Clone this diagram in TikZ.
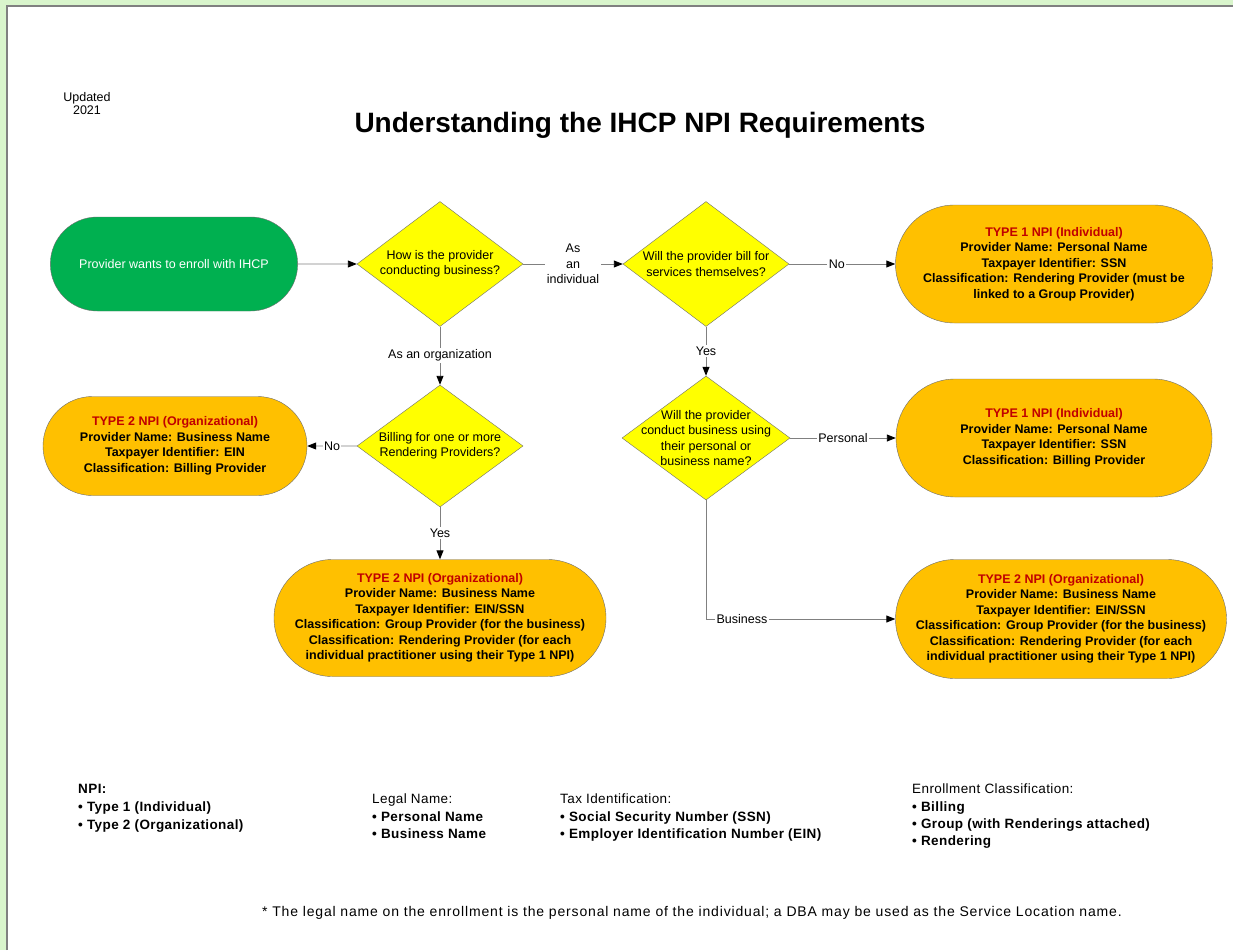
\documentclass[tikz,border=0pt]{standalone}
\usepackage{fontspec}
\setmainfont{Liberation Sans}
\usetikzlibrary{shapes.geometric,shapes.misc,arrows.meta}
\definecolor{bggreen}{RGB}{217,245,204}
\definecolor{startgreen}{RGB}{0,176,80}
\definecolor{boxorange}{RGB}{255,192,0}
\definecolor{qyellow}{RGB}{255,255,0}
\definecolor{redtxt}{RGB}{192,0,0}
\definecolor{edgegray}{RGB}{128,128,128}
\definecolor{outlinegray}{RGB}{110,110,110}
\begin{document}
\begin{tikzpicture}[x=1pt,y=-1pt,
 txt/.style={font=\fontsize{12.5}{15.3}\selectfont, align=center},
 startbox/.style={rounded rectangle, fill=startgreen, draw=outlinegray, text=white, txt},
 npibox/.style={rounded rectangle, fill=boxorange, draw=outlinegray, txt, font=\bfseries\fontsize{12.5}{15.5}\selectfont, inner sep=0pt},
 question/.style={diamond, fill=qyellow, draw=outlinegray, inner sep=0pt},
 qtext/.style={txt, inner sep=0pt},
 flow/.style={draw=edgegray, line width=0.9pt, -{Triangle[length=9pt,width=7pt,color=black]}},
 lbl/.style={fill=white, inner sep=1.5pt, txt},
 legend/.style={anchor=north west, align=left, inner sep=0pt, font=\fontsize{13.5}{18}\selectfont\addfontfeature{LetterSpace=3}},
]
\useasboundingbox (0,0) rectangle (1233,950);
\fill[bggreen] (0,0) rectangle (1233,950);
\fill[white] (7,6) rectangle (1233,950);
\draw[edgegray, line width=1.5pt] (7,950) -- (7,6) -- (1233,6);

\node[txt, font=\fontsize{12.5}{13}\selectfont] (upd) at (87,104) {Updated\\2021};
\node[font=\bfseries\fontsize{28}{30}\selectfont] (title) at (640,125) {Understanding the IHCP NPI Requirements};

\node[startbox, minimum width=254pt, minimum height=94pt] (start) at (174,264) {Provider wants to enroll with IHCP};

\node[question, minimum width=166pt, minimum height=125pt] (d1) at (440,264) {};
\node[qtext] (d1t) at (d1.center) {How is the provider\\conducting business?};
\node[question, minimum width=166pt, minimum height=125pt] (d2) at (706,264) {};
\node[qtext] (d2t) at (d2.center) {Will the provider bill for\\services themselves?};
\node[question, minimum width=166pt, minimum height=122pt] (d3) at (440,446) {};
\node[qtext] (d3t) at (d3.center) {Billing for one or more\\Rendering Providers?};
\node[question, minimum width=168pt, minimum height=124pt] (d4) at (706,438) {};
\node[qtext] (d4t) at (d4.center) {Will the provider\\conduct business using\\their personal or\\business name?};

\node[npibox, minimum width=317pt, minimum height=118pt] (b1) at (1054,264) {{\color{redtxt}TYPE 1 NPI (Individual)}\\Provider Name: Personal Name\\Taxpayer Identifier: SSN\\Classification: Rendering Provider (must be\\linked to a Group Provider)};
\node[npibox, minimum width=264pt, minimum height=99pt] (b2) at (175,446) {{\color{redtxt}TYPE 2 NPI (Organizational)}\\Provider Name: Business Name\\Taxpayer Identifier: EIN\\Classification: Billing Provider};
\node[npibox, minimum width=332pt, minimum height=117pt] (b3) at (440,618) {{\color{redtxt}TYPE 2 NPI (Organizational)}\\Provider Name: Business Name\\Taxpayer Identifier: EIN/SSN\\Classification: Group Provider (for the business)\\Classification: Rendering Provider (for each\\individual practitioner using their Type 1 NPI)};
\node[npibox, minimum width=316pt, minimum height=118pt] (b4) at (1054,438) {{\color{redtxt}TYPE 1 NPI (Individual)}\\Provider Name: Personal Name\\Taxpayer Identifier: SSN\\Classification: Billing Provider};
\node[npibox, minimum width=331pt, minimum height=119pt] (b5) at (1061,619) {{\color{redtxt}TYPE 2 NPI (Organizational)}\\Provider Name: Business Name\\Taxpayer Identifier: EIN/SSN\\Classification: Group Provider (for the business)\\Classification: Rendering Provider (for each\\individual practitioner using their Type 1 NPI)};

\draw[flow] (start) -- (d1);
\draw[flow] (d1) -- node[lbl] (l1) {As\\an\\individual} (d2);
\draw[flow] (d2) -- node[lbl, pos=0.45] (l2) {No} (b1);
\draw[flow] (d1) -- node[lbl] (l3) {As an organization} (d3);
\draw[flow] (d3) -- node[lbl] (l4) {No} (b2);
\draw[flow] (d3) -- node[lbl] (l5) {Yes} (b3);
\draw[flow] (d2) -- node[lbl] (l6) {Yes} (d4);
\draw[flow] (d4) -- node[lbl] (l7) {Personal} (b4);
\draw[flow] (d4.south) |- node[lbl, pos=0.595] (l8) {Business} (b5.west);

\node[legend] (lg1) at (78,784) {\textbf{NPI:}\\\textbf{• Type 1 (Individual)}\\\textbf{• Type 2 (Organizational)}};
\node[legend, font=\fontsize{13.5}{17.3}\selectfont\addfontfeature{LetterSpace=3}] (lg2) at (372,794) {Legal Name:\\\textbf{• Personal Name}\\\textbf{• Business Name}};
\node[legend, font=\fontsize{13.5}{17.3}\selectfont\addfontfeature{LetterSpace=3}] (lg3) at (560,794) {Tax Identification:\\\textbf{• Social Security Number (SSN)}\\\textbf{• Employer Identification Number (EIN)}};
\node[legend, font=\fontsize{13.5}{17.3}\selectfont\addfontfeature{LetterSpace=3}] (lg4) at (912,784) {Enrollment Classification:\\\textbf{• Billing}\\\textbf{• Group (with Renderings attached)}\\\textbf{• Rendering}};

\node[font=\fontsize{14}{16}\selectfont\addfontfeature{LetterSpace=6}] (foot) at (692,913) {* The legal name on the enrollment is the personal name of the individual; a DBA may be used as the Service Location name.};
\end{tikzpicture}
\end{document}
